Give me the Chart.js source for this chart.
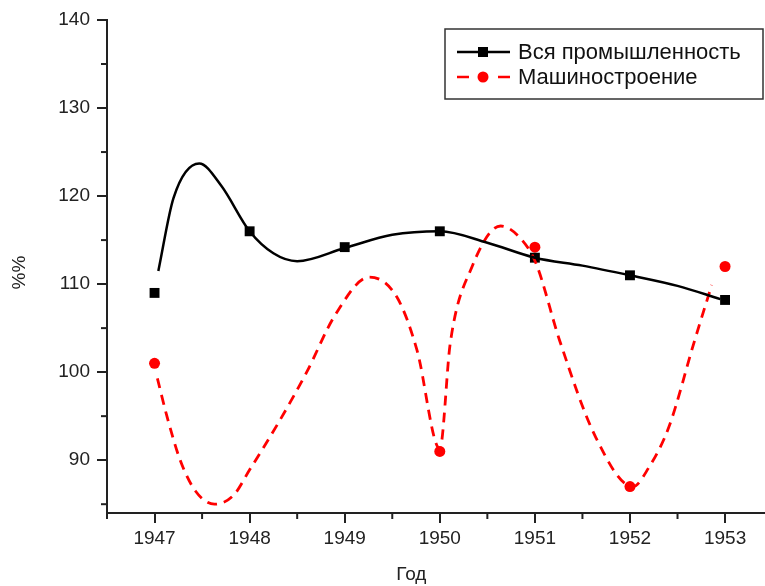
<!DOCTYPE html>
<html>
<head>
<meta charset="utf-8">
<script src="https://cdn.jsdelivr.net/npm/chart.js@4.4.0/dist/chart.umd.min.js"></script>
<style>
  body { margin: 0; background: #fff; }
</style>
</head>
<body>
<canvas id="chart" width="765" height="586"></canvas>
<script>
// values
var years = [1947, 1948, 1949, 1950, 1951, 1952, 1953];
var allIndustry = [109, 116, 114.2, 116, 113, 111, 108.2];
var machineYears = [1947, 1950, 1951, 1952, 1953];
var machineBuilding = [101, 91, 114.2, 87, 112];

// the drawn curves (smoothed in the original, they do not go through every marker)
var allCurveX = [1947.04, 1947.2, 1947.47, 1947.7, 1948, 1948.25, 1948.5, 1949, 1949.5, 1950, 1950.5, 1951, 1951.5, 1952, 1952.5, 1952.95];
var allCurveY = [111.5, 119.8, 123.7, 121.2, 116, 113.5, 112.6, 114.1, 115.6, 116, 114.7, 113, 112.1, 111, 109.8, 108.3];
var machCurveX = [1947.03, 1947.13, 1947.27, 1947.43, 1947.63, 1947.83, 1948, 1948.3, 1948.6, 1948.9, 1949.26, 1949.55, 1949.76, 1950, 1950.11, 1950.34, 1950.64, 1950.84, 1951.01, 1951.26, 1951.64, 1952.03, 1952.2, 1952.41, 1952.68, 1952.86];
var machCurveY = [99.3, 95, 90, 86.5, 85, 86, 88.9, 94.2, 100, 106.5, 110.8, 108.5, 102.5, 91.3, 103.3, 112, 116.6, 115.3, 112.4, 103.6, 92.6, 87, 89.2, 93.8, 103.6, 109.9];

var yTickMin = 85, yTickMax = 140;
var labelAll = 'Вся промышленность';
var labelMach = 'Машиностроение';
var xTitle = 'Год';
var yTitle = '%%';

function pairs(xs, ys) {
  return xs.map(function (x, i) { return { x: x, y: ys[i] }; });
}

var FONT = '"Liberation Sans", Arial, sans-serif';
var AXIS = '#222';

// minor ticks, axis titles and legend
var extras = {
  id: 'extras',
  afterDraw: function (chart) {
    var ctx = chart.ctx;
    var xs = chart.scales.x, ys = chart.scales.y;
    var area = chart.chartArea;
    ctx.save();
    ctx.strokeStyle = AXIS;
    ctx.lineWidth = 2;
    for (var v = years[0] - 0.5; v <= years[years.length - 1] + 0.5; v += 1) {
      var px = xs.getPixelForValue(v);
      if (px < area.left || px > area.right) continue;
      ctx.beginPath(); ctx.moveTo(px, area.bottom); ctx.lineTo(px, area.bottom + 6); ctx.stroke();
    }
    for (var w = yTickMin; w < yTickMax; w += 10) {
      var py = ys.getPixelForValue(w);
      ctx.beginPath(); ctx.moveTo(area.left - 6, py); ctx.lineTo(area.left, py); ctx.stroke();
    }

    ctx.fillStyle = AXIS;
    ctx.font = '19px ' + FONT;
    ctx.textAlign = 'center';
    ctx.textBaseline = 'middle';
    ctx.fillText(xTitle, xs.getPixelForValue(1949.7), 575);
    ctx.save();
    ctx.translate(20, (area.top + area.bottom) / 2 + 6);
    ctx.rotate(-Math.PI / 2);
    ctx.fillText(yTitle, 0, 0);
    ctx.restore();

    // legend
    var bx = 445, by = 29, bw = 318, bh = 70;
    ctx.fillStyle = '#fff';
    ctx.fillRect(bx, by, bw, bh);
    ctx.strokeStyle = '#333';
    ctx.lineWidth = 1.5;
    ctx.strokeRect(bx, by, bw, bh);

    var r1 = 52, r2 = 77;
    ctx.strokeStyle = '#000';
    ctx.lineWidth = 2.5;
    ctx.beginPath(); ctx.moveTo(457, r1); ctx.lineTo(510, r1); ctx.stroke();
    ctx.fillStyle = '#000';
    ctx.fillRect(478, r1 - 5, 10, 10);

    ctx.strokeStyle = '#ff0000';
    ctx.lineWidth = 2.5;
    ctx.beginPath(); ctx.moveTo(457, r2); ctx.lineTo(469, r2); ctx.stroke();
    ctx.beginPath(); ctx.moveTo(498, r2); ctx.lineTo(510, r2); ctx.stroke();
    ctx.fillStyle = '#ff0000';
    ctx.beginPath(); ctx.arc(483, r2, 5.5, 0, Math.PI * 2); ctx.fill();

    ctx.fillStyle = '#111';
    ctx.font = '22px ' + FONT;
    ctx.textAlign = 'left';
    ctx.fillText(labelAll, 518, r1 + 1);
    ctx.fillText(labelMach, 518, r2 + 1);
    ctx.restore();
  }
};

var chart = new Chart(document.getElementById('chart').getContext('2d'), {
  type: 'scatter',
  data: {
    datasets: [{
      label: labelAll + ' curve',
      data: pairs(allCurveX, allCurveY),
      showLine: true,
      borderColor: '#000',
      borderWidth: 2.5,
      pointRadius: 0,
      cubicInterpolationMode: 'monotone'
    }, {
      label: labelMach + ' curve',
      data: pairs(machCurveX, machCurveY),
      showLine: true,
      borderColor: '#ff0000',
      borderWidth: 2.8,
      borderDash: [10, 7],
      pointRadius: 0,
      cubicInterpolationMode: 'monotone'
    }, {
      label: labelAll,
      data: pairs(years, allIndustry),
      showLine: false,
      pointStyle: 'rect',
      pointRadius: 7,
      backgroundColor: '#000',
      borderWidth: 0
    }, {
      label: labelMach,
      data: pairs(machineYears, machineBuilding),
      showLine: false,
      pointStyle: 'circle',
      pointRadius: 5.5,
      backgroundColor: '#ff0000',
      borderWidth: 0
    }]
  },
  options: {
    responsive: false,
    animation: false,
    layout: { autoPadding: false, padding: { top: 20, right: 0, bottom: 0, left: 0 } },
    plugins: {
      legend: { display: false },
      tooltip: { enabled: false }
    },
    scales: {
      x: {
        type: 'linear',
        min: 1946.5,
        max: 1953.42,
        border: { color: AXIS, width: 2 },
        grid: {
          drawOnChartArea: false,
          tickLength: 10,
          lineWidth: 2,
          color: function (c) { return c.tick && Number.isInteger(c.tick.value) ? AXIS : 'rgba(0,0,0,0)'; }
        },
        ticks: {
          stepSize: 0.5,
          includeBounds: false,
          autoSkip: false,
          maxRotation: 0,
          padding: 4,
          color: AXIS,
          font: { family: FONT, size: 19 },
          callback: function (v) { return Number.isInteger(v) ? String(v) : ''; }
        },
        afterFit: function (s) { s.height = 73; s.paddingLeft = 0; s.paddingRight = 0; }
      },
      y: {
        min: 84,
        max: 140,
        border: { color: AXIS, width: 2 },
        grid: {
          drawOnChartArea: false,
          tickLength: 10,
          lineWidth: 2,
          color: function (c) { return c.tick && c.tick.value % 10 === 0 ? AXIS : 'rgba(0,0,0,0)'; }
        },
        ticks: {
          stepSize: 5,
          includeBounds: false,
          padding: 7,
          color: AXIS,
          font: { family: FONT, size: 19 },
          callback: function (v) { return v % 10 === 0 ? String(v) : ''; }
        },
        afterFit: function (s) { s.width = 107; s.paddingTop = 0; s.paddingBottom = 0; }
      }
    }
  },
  plugins: [extras]
});
</script>
</body>
</html>
